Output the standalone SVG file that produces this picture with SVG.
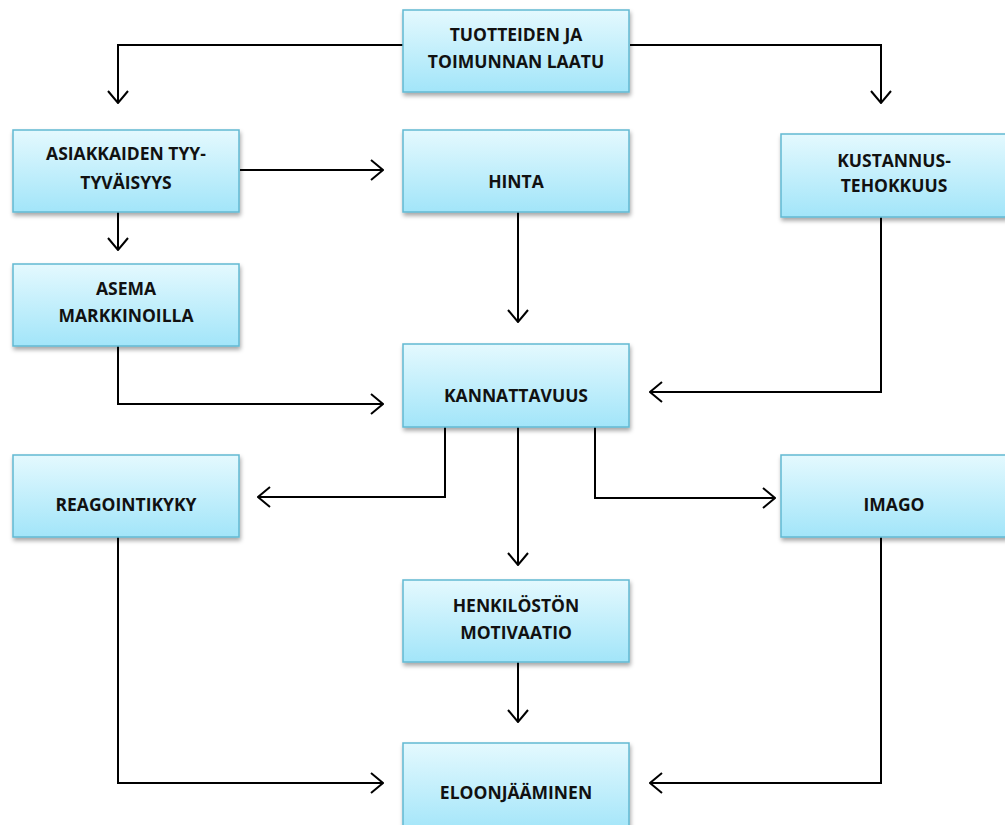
<svg xmlns="http://www.w3.org/2000/svg" width="1005" height="825" viewBox="0 0 1005 825">
<style>
.box{fill:url(#g);stroke:#62b9d2;stroke-width:1.5;filter:url(#sh)}
.t{font-family:"Open Sans","DejaVu Sans",sans-serif;font-weight:700;font-size:17.5px;fill:#111;text-anchor:middle}
.c{fill:none;stroke:#000;stroke-width:2;marker-end:url(#a)}
</style>
<defs>
<linearGradient id="g" x1="0" y1="0" x2="0" y2="1">
<stop offset="0" stop-color="#e4f9fe"/>
<stop offset="1" stop-color="#a2e5f9"/>
</linearGradient>
<filter id="sh" x="-10%" y="-10%" width="130%" height="140%">
<feDropShadow dx="1" dy="3" stdDeviation="2" flood-color="#000" flood-opacity="0.35"/>
</filter>
<marker id="a" viewBox="0 0 14 22" refX="13" refY="11" markerWidth="14" markerHeight="22" markerUnits="userSpaceOnUse" orient="auto">
<path d="M1,1 L13,11 L1,21" fill="none" stroke="#000" stroke-width="2"/>
</marker>
</defs>
<g id="connectors">
<path class="c" d="M403,45 H118 V103"/>
<path class="c" d="M630,45 H881 V103"/>
<path class="c" d="M240,170 H383"/>
<path class="c" d="M118,212 V250"/>
<path class="c" d="M518,212 V322"/>
<path class="c" d="M118,346 V404 H383"/>
<path class="c" d="M881,217 V392 H650"/>
<path class="c" d="M445,427 V497 H258"/>
<path class="c" d="M518,427 V565"/>
<path class="c" d="M595,427 V498 H775"/>
<path class="c" d="M518,662 V722"/>
<path class="c" d="M118,537 V783 H383"/>
<path class="c" d="M881,537 V783 H650"/>
</g>
<g id="n1"><rect class="box" x="403" y="10" width="226" height="82"/><text class="t" x="516" y="41">TUOTTEIDEN JA</text><text class="t" x="516" y="68">TOIMUNNAN LAATU</text></g>
<g id="n2"><rect class="box" x="13" y="130" width="226" height="82"/><text class="t" x="126" y="160">ASIAKKAIDEN TYY-</text><text class="t" x="126" y="189">TYVÄISYYS</text></g>
<g id="n3"><rect class="box" x="403" y="130" width="226" height="82"/><text class="t" x="516" y="188">HINTA</text></g>
<g id="n4"><rect class="box" x="781" y="134" width="227" height="83"/><text class="t" x="894" y="167">KUSTANNUS-</text><text class="t" x="894" y="192">TEHOKKUUS</text></g>
<g id="n5"><rect class="box" x="13" y="264" width="226" height="82"/><text class="t" x="126" y="295">ASEMA</text><text class="t" x="126" y="322">MARKKINOILLA</text></g>
<g id="n6"><rect class="box" x="403" y="344" width="226" height="83"/><text class="t" x="516" y="402">KANNATTAVUUS</text></g>
<g id="n7"><rect class="box" x="13" y="455" width="226" height="82"/><text class="t" x="126" y="511">REAGOINTIKYKY</text></g>
<g id="n8"><rect class="box" x="781" y="455" width="227" height="82"/><text class="t" x="894" y="511">IMAGO</text></g>
<g id="n9"><rect class="box" x="403" y="580" width="226" height="82"/><text class="t" x="516" y="612">HENKILÖSTÖN</text><text class="t" x="516" y="639">MOTIVAATIO</text></g>
<g id="n10"><rect class="box" x="403" y="743" width="226" height="90"/><text class="t" x="516" y="799">ELOONJÄÄMINEN</text></g>
</svg>
